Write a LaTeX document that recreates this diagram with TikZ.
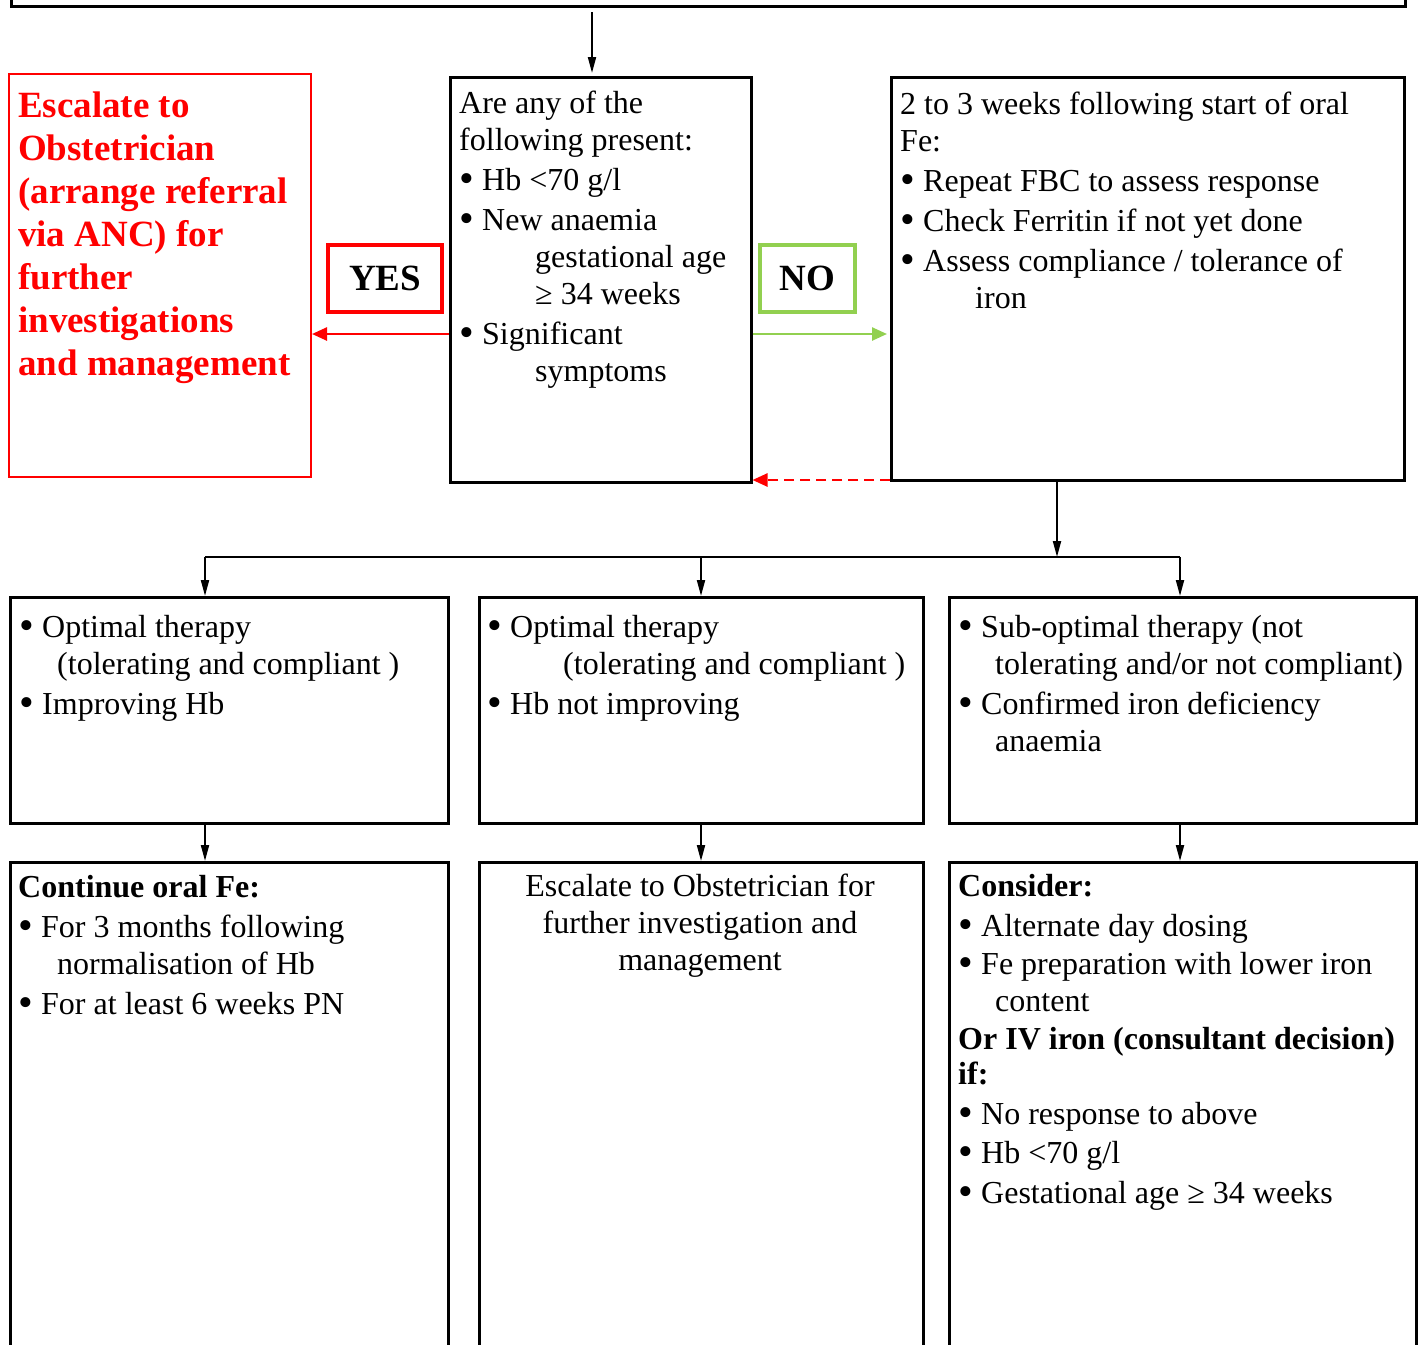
\documentclass[tikz,border=0pt]{standalone}
\usepackage{fontspec}
\setmainfont{Liberation Serif}
\usetikzlibrary{arrows.meta,positioning}
\definecolor{escred}{HTML}{FF0000}
\definecolor{nogreen}{HTML}{92D050}
\newcommand{\bul}{\makebox[23pt][l]{\raisebox{-2.5pt}{\fontsize{42}{37}\selectfont\textbullet}}}
\newcommand{\hang}[1]{\hspace*{#1}}
\newcommand{\leftlines}[1]{\begin{tabular}[t]{@{}l@{}}#1\end{tabular}}
\newcommand{\midlines}[1]{\begin{tabular}[t]{@{}c@{}}#1\end{tabular}}

\begin{document}
\begin{tikzpicture}[x=1pt,y=-1pt,
  box/.style={draw,line width=2.5pt,inner sep=0pt,anchor=north west},
  txt/.style={anchor=base west,inner sep=0pt,font=\fontsize{32}{37}\selectfont},
  arr/.style={line width=2pt,-{Triangle[length=16pt,width=8pt]}},
  side/.style={line width=2.5pt,-{Triangle[length=15pt,width=13pt]}},
  tag/.style={line width=4pt,inner sep=0pt,minimum height=67pt,font=\fontsize{37}{43}\selectfont\bfseries}]
  \path[use as bounding box] (0,0) rectangle (1420,1344);
  \clip (0,0) rectangle (1420,1344);

  % boxes
  \node[box,line width=3pt,minimum width=1394pt,minimum height=120pt,anchor=south west] (top) at (10,8) {};
  \node[box,draw=escred,line width=2pt,minimum width=302pt,minimum height=403pt] (esc) at (8,73) {};
  \node[box,minimum width=301pt,minimum height=405pt] (q) at (449,76) {};
  \node[box,minimum width=513pt,minimum height=403pt] (fu) at (890,76) {};
  \node[tag,draw=escred,minimum width=114pt] (yes) at (385,278.5) {YES};
  \node[tag,draw=nogreen,line width=4.5pt,minimum width=95pt] (no) at (807.5,278.5) {NO};

  \node[box,minimum width=438pt,minimum height=226pt] (opt) at (9,596) {};
  \node[box,minimum width=444pt,minimum height=226pt] (noimp) at (478,596) {};
  \node[box,minimum width=467pt,minimum height=226pt] (subopt) at (948,596) {};
  \node[box,minimum width=438pt,minimum height=700pt] (cont) at (9,861) {};
  \node[box,minimum width=444pt,minimum height=700pt] (obs) at (478,861) {};
  \node[box,minimum width=467pt,minimum height=700pt] (cons) at (948,861) {};

  % texts
  \node[txt,text=escred,font=\fontsize{37}{43}\selectfont\bfseries] (esctext) at (18,117)
    {\leftlines{Escalate to\\Obstetrician\\(arrange referral\\via ANC) for\\further\\investigations\\and management}};
  \node[txt] (qtext) at (459,113)
    {\leftlines{Are any of the\\following present:\\[3pt]\bul Hb <70 g/l\\[3pt]\bul New anaemia\\\hang{76pt}gestational age\\\hang{76pt}≥ 34 weeks\\[3pt]\bul Significant\\\hang{76pt}symptoms}};
  \node[txt] (futext) at (900,114)
    {\leftlines{2 to 3 weeks following start of oral\\Fe:\\[3pt]\bul Repeat FBC to assess response\\[3pt]\bul Check Ferritin if not yet done\\[3pt]\bul Assess compliance / tolerance of\\\hang{75pt}iron}};
  \node[txt] (opttext) at (19,637)
    {\leftlines{\bul Optimal therapy\\\hang{38pt}(tolerating and compliant )\\[3pt]\bul Improving Hb}};
  \node[txt] (noimptext) at (487,637)
    {\leftlines{\bul Optimal therapy\\\hang{76pt}(tolerating and compliant )\\[3pt]\bul Hb not improving}};
  \node[txt] (subopttext) at (958,637)
    {\leftlines{\bul Sub-optimal therapy (not\\\hang{37pt}tolerating and/or not compliant)\\[3pt]\bul Confirmed iron deficiency\\\hang{37pt}anaemia}};
  \node[txt] (conttext) at (18,897)
    {\leftlines{\textbf{Continue oral Fe:}\\[3pt]\bul For 3 months following\\\hang{39pt}normalisation of Hb\\[3pt]\bul For at least 6 weeks PN}};
  \node[txt,anchor=base] (obstext) at (700,896)
    {\midlines{Escalate to Obstetrician for\\further investigation and\\management}};
  \node[txt] (constext) at (958,896)
    {\leftlines{\textbf{Consider:}\\[3pt]\bul Alternate day dosing\\[1pt]\bul Fe preparation with lower iron\\\hang{37pt}content\\[1pt]\textbf{Or IV iron (consultant decision)}\\[-2pt]\textbf{if:}\\[3pt]\bul No response to above\\[2pt]\bul Hb <70 g/l\\[3pt]\bul Gestational age ≥ 34 weeks}};

  % connectors
  \coordinate (qin) at (592,73);
  \coordinate (yesrow) at (0,334);
  \coordinate (backrow) at (0,480);
  \coordinate (split) at (1057,557);
  \coordinate (la) at (205,557);
  \coordinate (lb) at (701,557);
  \coordinate (lc) at (1180,557);
  \draw[arr,shorten <=4pt] (qin |- top.south) -- (qin);
  \draw[side,escred] (q.west |- yesrow) -- (esc.east |- yesrow);
  \draw[side,nogreen,shorten >=3pt] (q.east |- yesrow) -- (fu.west |- yesrow);
  \draw[side,escred,dash pattern=on 10pt off 6pt] (fu.west |- backrow) -- (q.east |- backrow);
  \draw[arr] (fu.south -| split) -- (split);
  \draw[line width=2pt] (la) -- (lc);
  \draw[arr] (la) -- (la |- opt.north);
  \draw[arr] (lb) -- (lb |- noimp.north);
  \draw[arr] (lc) -- (lc |- subopt.north);
  \draw[arr] (la |- opt.south) -- (la |- cont.north);
  \draw[arr] (lb |- noimp.south) -- (lb |- obs.north);
  \draw[arr] (lc |- subopt.south) -- (lc |- cons.north);
\end{tikzpicture}
\end{document}
